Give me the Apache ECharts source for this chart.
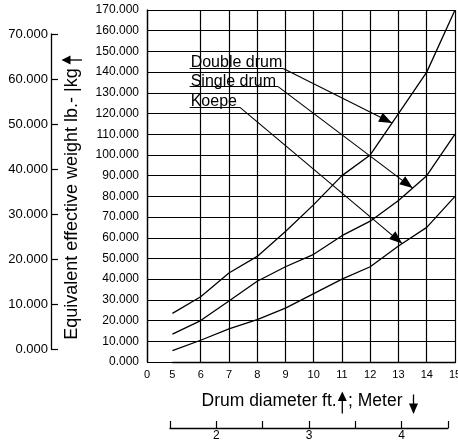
<!DOCTYPE html>
<html><head><meta charset="utf-8">
<script src="https://cdn.jsdelivr.net/npm/echarts@6/dist/echarts.min.js"></script>
<style>html,body{margin:0;padding:0;background:#fff}#c{width:458px;height:441px}</style>
</head><body><div id="c"></div>
<script>
// ---- data (lb) ----
const feet = [5, 6, 7, 8, 9, 10, 11, 12, 13, 14, 15];
const doubleDrum = [23500, 31500, 43000, 51000, 63000, 76000, 90000, 100000, 120000, 140000, 170000];
const singleDrum = [13500, 20000, 29500, 39000, 46000, 52000, 61000, 68000, 78000, 90000, 110000];
const koepe = [5500, 10500, 16000, 20500, 26000, 33000, 40000, 46000, 56000, 65000, 80000];
const seriesNames = ['Double drum', 'Single drum', 'Koepe'];
const meterTickLabels = [2, 3, 4];

// annotation anchors (data coordinates: feet, lb)
const notes = [
  { underline: [[5.61, 141800], [8.92, 141800]], tip: [12.77, 115400] },
  { underline: [[5.61, 133000], [8.74, 133000]], tip: [13.5, 84000] },
  { underline: [[5.61, 123000], [7.39, 123000]], tip: [13.13, 57200] }
];

const FONT = "'Liberation Sans', Arial, Helvetica, sans-serif";
const fmt = v => (v / 1000).toFixed(3);

const chart = echarts.init(document.getElementById('c'), null, { renderer: 'canvas' });

function makeSeries(name, vals, note) {
  return {
    name, type: 'line', xAxisIndex: 0, yAxisIndex: 0,
    data: feet.map((x, i) => [x, vals[i]]),
    symbol: 'none', showSymbol: false, silent: true, animation: false,
    lineStyle: { color: '#000', width: 1.3 },
    emphasis: { disabled: true },
    markLine: {
      silent: true, animation: false,
      symbol: ['none', 'none'],
      lineStyle: { color: '#000', width: 1.1, type: 'solid' },
      emphasis: { disabled: true },
      data: [
        [
          { coord: note.underline[0], label: { show: true, formatter: name, position: 'insideStartTop', distance: [1, -2.5], color: '#000', fontSize: 16, fontFamily: FONT } },
          { coord: note.underline[1] }
        ],
        [
          { coord: note.underline[1], label: { show: false } },
          { coord: note.tip, symbol: 'triangle', symbolSize: [10, 13], symbolOffset: [0, 6.5] }
        ]
      ],
      label: { show: false }
    }
  };
}

const option = {
  animation: false,
  backgroundColor: '#fff',
  textStyle: { fontFamily: FONT, color: '#000' },
  grid: [
    { left: 147, right: 3, top: 10, bottom: 79, outerBoundsMode: 'none', containLabel: false },
    { left: 51, top: 34, width: 1, height: 315, outerBoundsMode: 'none', containLabel: false },
    { left: 170, top: 420, width: 278, height: 8, outerBoundsMode: 'none', containLabel: false }
  ],
  xAxis: [
    {
      gridIndex: 0, type: 'value', min: 0, max: 15, interval: 1,
      breaks: [{ start: 0, end: 5, gap: 0.9 }],
      breakArea: { show: false },
      axisLine: { show: true, lineStyle: { color: '#000', width: 1.3 } },
      axisTick: { show: false },
      splitLine: { show: true, lineStyle: { color: '#000', width: 1.2 } },
      axisLabel: { color: '#000', fontSize: 11, margin: 7, fontFamily: FONT, showMinLabel: true, showMaxLabel: true, hideOverlap: false }
    },
    { gridIndex: 1, type: 'value', show: false },
    {
      gridIndex: 2, type: 'value', min: 1.5, max: 4.5, interval: 0.5, position: 'bottom',
      axisLine: { show: true, lineStyle: { color: '#000', width: 1.3 } },
      axisTick: { show: true, inside: true, length: 7, lineStyle: { color: '#000', width: 1.2 } },
      splitLine: { show: false },
      axisLabel: { color: '#000', fontSize: 12, margin: 2, fontFamily: FONT,
        formatter: v => meterTickLabels.includes(v) ? String(v) : '' }
    }
  ],
  yAxis: [
    {
      gridIndex: 0, type: 'value', min: 0, max: 170000, interval: 10000,
      axisLine: { show: true, lineStyle: { color: '#000', width: 1.3 } },
      axisTick: { show: false },
      splitLine: { show: true, lineStyle: { color: '#000', width: 1.2 } },
      axisLabel: { color: '#000', fontSize: 12, margin: 8, fontFamily: FONT, formatter: fmt, showMinLabel: true, showMaxLabel: true }
    },
    {
      gridIndex: 1, type: 'value', min: 0, max: 70000, interval: 10000, position: 'left',
      axisLine: { show: true, lineStyle: { color: '#000', width: 1.3 } },
      axisTick: { show: true, inside: true, length: 7, lineStyle: { color: '#000', width: 1.2 } },
      splitLine: { show: false },
      axisLabel: { color: '#000', fontSize: 13, margin: 3, fontFamily: FONT, formatter: fmt, showMinLabel: true, showMaxLabel: true }
    },
    { gridIndex: 2, type: 'value', show: false }
  ],
  series: [
    makeSeries(seriesNames[0], doubleDrum, notes[0]),
    makeSeries(seriesNames[1], singleDrum, notes[1]),
    makeSeries(seriesNames[2], koepe, notes[2])
  ],
  graphic: [
    { type: 'text', x: 72, y: 204, rotation: Math.PI / 2, silent: true,
      style: { text: 'Equivalent effective weight lb.- |kg', fontSize: 18, fontFamily: FONT, fill: '#000', align: 'center', verticalAlign: 'middle' } },
    { type: 'line', silent: true, shape: { x1: 82, y1: 60, x2: 68, y2: 60 }, style: { stroke: '#000', lineWidth: 1.3 } },
    { type: 'polygon', silent: true, shape: { points: [[61.5, 60], [70.5, 55.5], [70.5, 64.5]] }, style: { fill: '#000' } },
    { type: 'text', x: 201.5, y: 401, silent: true,
      style: { text: 'Drum diameter ft.', fontSize: 17.5, fontFamily: FONT, fill: '#000', align: 'left', verticalAlign: 'middle' } },
    { type: 'line', silent: true, shape: { x1: 342.3, y1: 399, x2: 342.3, y2: 413.5 }, style: { stroke: '#000', lineWidth: 1.3 } },
    { type: 'polygon', silent: true, shape: { points: [[342.3, 391.5], [337.8, 401], [346.8, 401]] }, style: { fill: '#000' } },
    { type: 'text', x: 348, y: 401, silent: true,
      style: { text: '; Meter', fontSize: 17.5, fontFamily: FONT, fill: '#000', align: 'left', verticalAlign: 'middle' } },
    { type: 'line', silent: true, shape: { x1: 413.5, y1: 394.5, x2: 413.5, y2: 406 }, style: { stroke: '#000', lineWidth: 1.3 } },
    { type: 'polygon', silent: true, shape: { points: [[409, 403.5], [418, 403.5], [413.5, 414]] }, style: { fill: '#000' } }
  ]
};
chart.setOption(option);
</script>
</body></html>
